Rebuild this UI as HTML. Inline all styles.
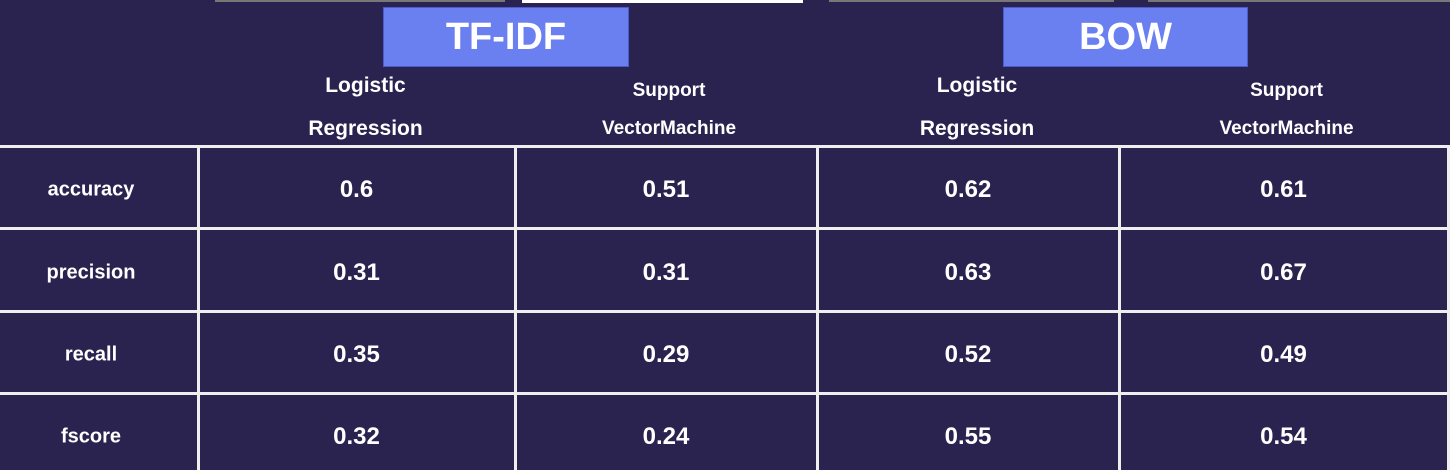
<!DOCTYPE html>
<html><head><meta charset="utf-8"><style>
body{margin:0;width:1450px;height:470px;background:#2a2350;overflow:hidden;position:relative;font-family:"Liberation Sans",sans-serif;font-weight:bold;color:#fff}
.a{position:absolute}
.t{position:absolute;text-align:center;transform:translate(-50%,-50%);white-space:nowrap}
.box{position:absolute;background:#6a7ff0;font-size:38px;display:flex;align-items:center;justify-content:center;top:7px;height:60px;border:1px solid #4a5ad0;box-sizing:border-box}
.h{position:absolute;left:0;width:1450px;height:3px;background:#eee}
.v{position:absolute;top:146px;height:324px;width:3px;background:#eee}
</style></head><body>
<div class="a" style="left:215px;top:0;width:290px;height:2px;background:#777"></div>
<div class="a" style="left:522px;top:0;width:281px;height:3px;background:#fff"></div>
<div class="a" style="left:829px;top:0;width:285px;height:2px;background:#777"></div>
<div class="a" style="left:1148px;top:0;width:302px;height:2px;background:#777"></div>
<div class="box" style="left:383px;width:246px">TF-IDF</div>
<div class="box" style="left:1003px;width:245px">BOW</div>
<div id="g"></div>
<script>
const models=["Logistic<br>Regression","Support<br>VectorMachine","Logistic<br>Regression","Support<br>VectorMachine"];
const metrics=["accuracy","precision","recall","fscore"];
const tfidfLR=["0.6","0.31","0.35","0.32"];
const tfidfSVM=["0.51","0.31","0.29","0.24"];
const bowLR=["0.62","0.63","0.52","0.55"];
const bowSVM=["0.61","0.67","0.49","0.54"];
const cols=[tfidfLR,tfidfSVM,bowLR,bowSVM];
const colX=[0,198,515,817,1119,1448];
const rowY=[146,228,311,393,475];
const g=document.getElementById('g');
function add(cls,style,html,name){const d=document.createElement('div');d.className=cls;d.setAttribute('style',style);if(html)d.innerHTML=html;


g.appendChild(d);return d;}
for(let i=0;i<4;i++){add('h','top:'+(rowY[i]-1)+'px','', 'row-line');}
for(let i=1;i<colX.length;i++){add('v','left:'+(colX[i]-1)+'px','', 'col-line');}
models.forEach((m,i)=>{const cx=(colX[i+1]+colX[i+2])/2+(i%2?3:9);add('t','left:'+cx+'px;top:'+(i%2?110:107)+'px;font-size:'+(i%2?19:21)+'px;line-height:'+(i%2?38:43)+'px',m,'model-header');});
metrics.forEach((m,r)=>{const cy=(rowY[r]+rowY[r+1])/2+3;add('t','left:91px;top:'+cy+'px;font-size:20px',m,'metric-label');
cols.forEach((c,i)=>{add('t','left:'+(colX[i+1]+colX[i+2])/2+'px;top:'+cy+'px;font-size:24px',c[r],'value-cell');});});
</script>
</body></html>
